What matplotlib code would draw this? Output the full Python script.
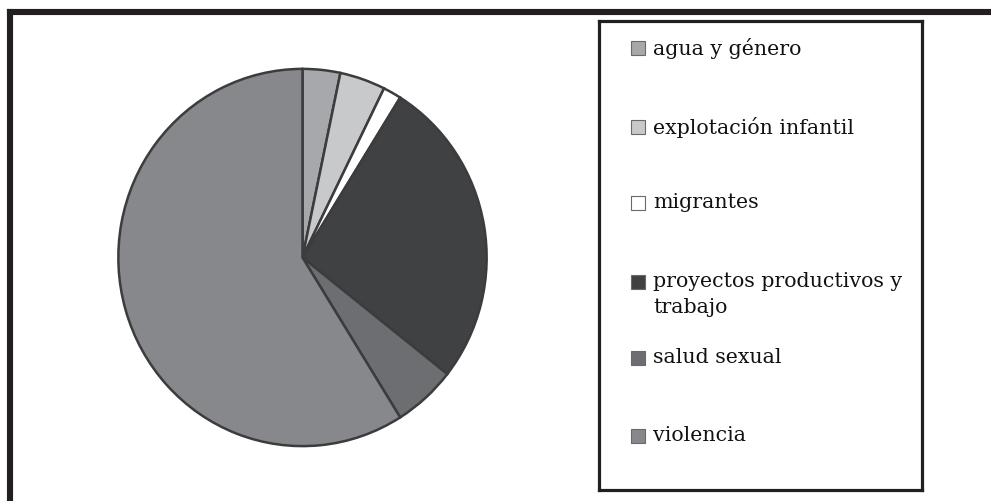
import matplotlib.pyplot as plt
from matplotlib.lines import Line2D
from matplotlib.patches import Rectangle

# data (percent of cases)
categorias = ["agua y género", "explotación infantil", "migrantes",
              "proyectos productivos y\ntrabajo", "salud sexual", "violencia"]
valores = [3.3, 4.0, 1.6, 26.7, 5.5, 58.9]
colores = ["#a7a8ab", "#c8c9cb", "#ffffff", "#404143", "#6d6e71", "#87888c"]

W, H = 991, 501
fig = plt.figure(figsize=(W / 100, H / 100), dpi=100)
fig.patch.set_facecolor("white")

def fx(px):
    return px / W

def fy(py):
    return 1 - py / H

# outer frame (only top and left edges visible)
fig.add_artist(Line2D([fx(10), fx(1000)], [fy(12), fy(12)], color="#231f20", lw=4.4,
                      solid_capstyle="projecting", transform=fig.transFigure))
fig.add_artist(Line2D([fx(10), fx(10)], [fy(12), fy(510)], color="#231f20", lw=4.4,
                      solid_capstyle="projecting", transform=fig.transFigure))

# pie
cx, cy, rx, ry = 302.5, 257.5, 186, 190.5
ax = fig.add_axes([fx(cx - rx), fy(cy + ry), 2 * rx / W, 2 * ry / H])
ax.pie(valores, colors=colores, startangle=90, counterclock=False,
       wedgeprops=dict(edgecolor="#3c3c3e", linewidth=1.8))
ax.set_aspect("auto")
ax.set_xlim(-1.01, 1.01)
ax.set_ylim(-1.01, 1.01)
ax.axis("off")

# legend box drawn by hand
lx0, ly0, lx1, ly1 = 598.5, 21.5, 921.5, 489.5
lax = fig.add_axes([fx(lx0), fy(ly1), (lx1 - lx0) / W, (ly1 - ly0) / H])
lax.set_xlim(lx0, lx1)
lax.set_ylim(ly1, ly0)
lax.set_xticks([])
lax.set_yticks([])
for s in lax.spines.values():
    s.set_linewidth(2.3)
    s.set_color("#231f20")

filas = [48, 127, 203, 282, 358, 436]
for cat, col, yy in zip(categorias, colores, filas):
    lax.add_patch(Rectangle((631, yy - 7), 14, 14, facecolor=col,
                            edgecolor="#6a6a6a", lw=0.8))
    lax.text(653, yy - 10, cat, family="DejaVu Serif", fontsize=14.8,
             color="#111111", va="top", ha="left", linespacing=1.5)

fig.savefig("out.png", dpi=100)
